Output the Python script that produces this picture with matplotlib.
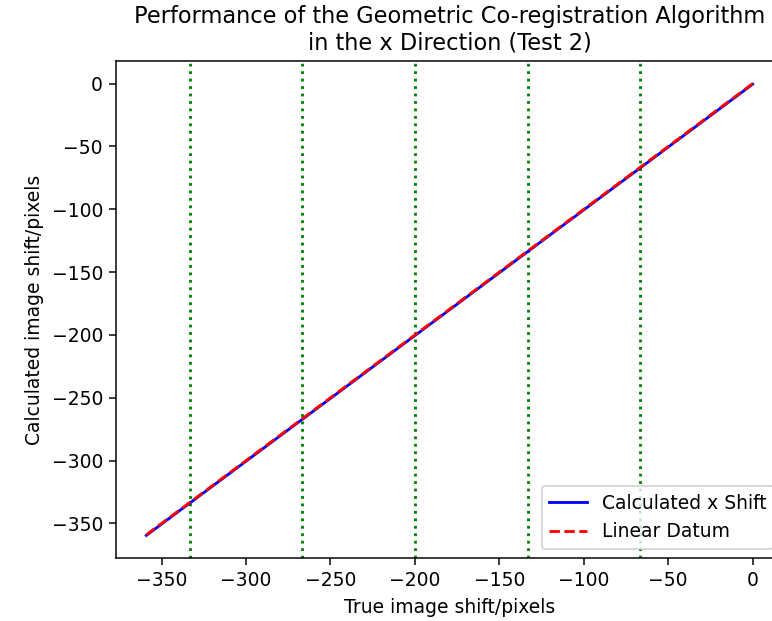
import matplotlib
matplotlib.use("Agg")
import matplotlib.pyplot as plt

true_shift = [-359, -333.3, -266.7, -200, -133.3, -66.7, 0]
calc_shift = [-359.5, -333.8, -267.2, -200.5, -133.8, -67.2, -0.5]
datum_x = [-359, 0]
datum_y = [-359, 0]
vlines = [-333.3, -266.7, -200.0, -133.3, -66.7]

DPI = 135
fig = plt.figure(figsize=(772 / DPI, 621 / DPI), dpi=DPI)
W, H = 772, 621
ax = fig.add_axes([116 / W, 1 - 558 / H, (783 - 116) / W, (558 - 61) / H])

for v in vlines:
    ax.axvline(v, color='green', linestyle=':')
ax.plot(true_shift, calc_shift, color='blue', label='Calculated x Shift')
ax.plot(datum_x, datum_y, color='red', linestyle='--', label='Linear Datum')

ax.set_title('Performance of the Geometric Co-registration Algorithm\nin the x Direction (Test 2)')
ax.set_xlabel('True image shift/pixels')
ax.set_ylabel('Calculated image shift/pixels')
ax.legend(loc='lower right')

fig.savefig('out.png', dpi=DPI)
